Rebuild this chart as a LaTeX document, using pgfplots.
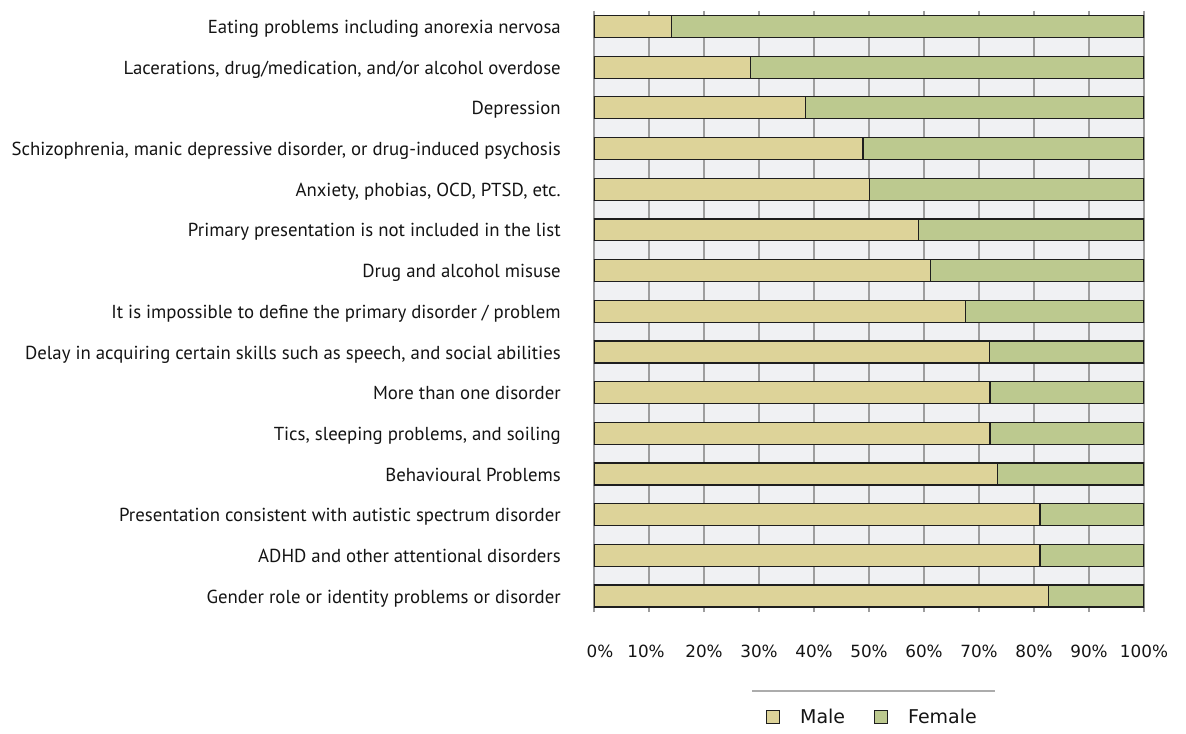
\documentclass[border=0pt]{standalone}
\usepackage{pgfplots}
\pgfplotsset{compat=1.18}
\usepackage{fontspec}
\setmainfont{PT Sans}
\newfontfamily\tickfont{DejaVu Sans}

\definecolor{maleC}{RGB}{221,211,153}
\definecolor{femaleC}{RGB}{188,201,143}
\definecolor{bandC}{RGB}{240,241,243}
\definecolor{gridC}{RGB}{158,158,158}
\definecolor{edgeC}{RGB}{30,30,30}
\definecolor{textC}{RGB}{20,20,20}

\begin{document}
\begin{tikzpicture}
\path[use as bounding box] (0,0) rectangle (889.5pt,549.75pt);
\begin{axis}[
  at={(445.5pt,94.5pt)}, anchor=south west,
  width=412.5pt, height=443.6pt, scale only axis,
  xbar stacked, bar width=0.54,
  xmin=0, xmax=100, ymin=-0.27, ymax=14.27,
  axis background/.style={fill=bandC},
  axis line style={draw=none},
  tick align=outside,
  major tick length=3.75pt,
  xtick pos=both,
  xtick style={draw=gridC, line width=1.3pt},
  ytick style={draw=none},
  xmajorgrids,
  major grid style={draw=gridC, line width=1.3pt},
  xtick={0,10,...,100},
  xticklabels={\hspace*{9pt}0\%,10\%\hspace*{4.5pt},20\%,30\%,40\%,50\%,60\%,70\%,80\%,90\%,100\%},
  xticklabel style={font=\tickfont\fontsize{12.6}{14}\selectfont, text=textC,
    anchor=base, inner sep=0pt, yshift=-33.75pt},
  ytick={0,...,14},
  yticklabels={
    {Gender role or identity problems or disorder},
    {ADHD and other attentional disorders},
    {Presentation consistent with autistic spectrum disorder},
    {Behavioural Problems},
    {Tics, sleeping problems, and soiling},
    {More than one disorder},
    {Delay in acquiring certain skills such as speech, and social abilities},
    {It is impossible to define the primary disorder / problem},
    {Drug and alcohol misuse},
    {Primary presentation is not included in the list},
    {Anxiety, phobias, OCD, PTSD, etc.},
    {Schizophrenia, manic depressive disorder, or drug-induced psychosis},
    {Depression},
    {Lacerations, drug/medication, and/or alcohol overdose},
    {Eating problems including anorexia nervosa}},
  yticklabel style={font=\fontsize{14.1}{16}\selectfont, text=textC,
    anchor=base east, inner sep=0pt, xshift=-21pt, yshift=-5.3pt},
  legend columns=2,
  legend cell align=left,
  legend style={at={(0.5045,-0.186)}, anchor=center, draw=none, fill=none,
    font=\tickfont\fontsize{14.25}{17}\selectfont, text=textC,
    inner sep=0pt, nodes={inner sep=0pt},
    /tikz/every odd column/.append style={column sep=15pt},
    /tikz/every even column/.append style={column sep=21.75pt}},
  legend image code/.code={\draw[#1,draw=edgeC,line width=0.75pt]
    (0pt,-4.875pt) rectangle (9.75pt,4.875pt);},
]
\addplot[fill=maleC, draw=edgeC, line width=0.9pt] coordinates {
  (82.6,0) (81.1,1) (81.1,2) (73.3,3) (72.0,4) (72.0,5) (71.9,6)
  (67.5,7) (61.2,8) (59.0,9) (50.1,10) (48.9,11) (38.4,12) (28.4,13) (14.1,14)};
\addplot[fill=femaleC, draw=edgeC, line width=0.9pt] coordinates {
  (17.4,0) (18.9,1) (18.9,2) (26.7,3) (28.0,4) (28.0,5) (28.1,6)
  (32.5,7) (38.8,8) (41.0,9) (49.9,10) (51.1,11) (61.6,12) (71.6,13) (85.9,14)};
\legend{Male, Female}
\end{axis}
% rule above the legend
\draw[draw=gray!65, line width=1.4pt] (564pt,31.5pt) -- (746.25pt,31.5pt);
\end{tikzpicture}
\end{document}
